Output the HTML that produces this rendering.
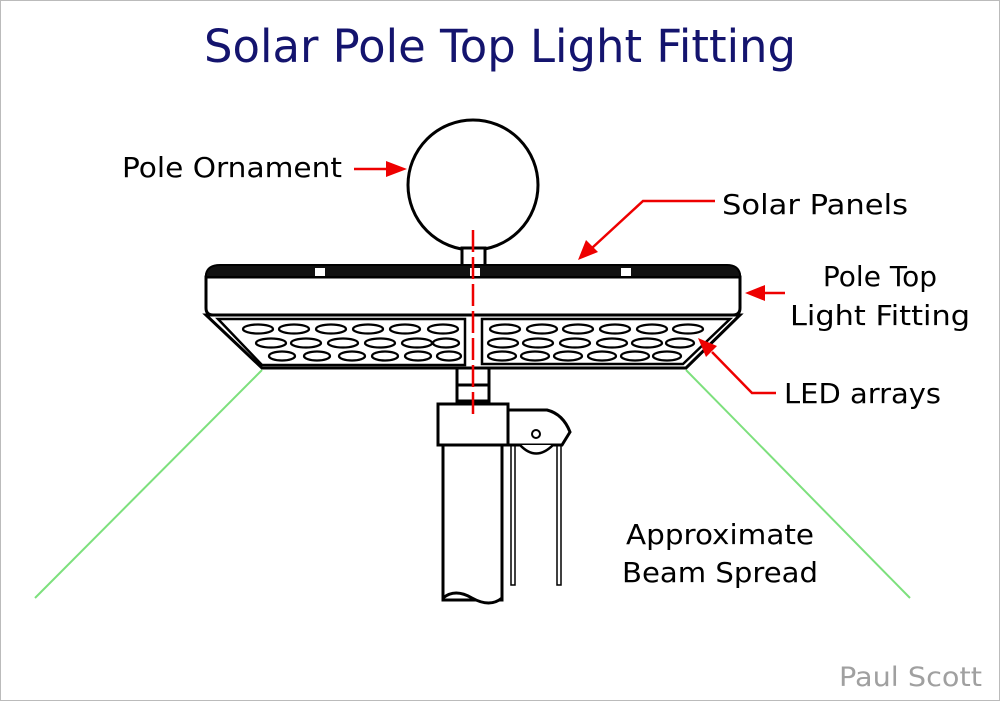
<!DOCTYPE html>
<html><head><style>
body{margin:0;width:1000px;height:701px;background:#fff;overflow:hidden}
svg{display:block}
text{font-family:"DejaVu Sans","Liberation Sans",sans-serif}
</style></head><body>
<svg width="1000" height="701" viewBox="0 0 1000 701">
<rect x="0.5" y="0.5" width="999" height="700" fill="#fff" stroke="#bbb"/>
<text x="500" y="62" font-size="45" fill="#14146e" text-anchor="middle" textLength="592" lengthAdjust="spacingAndGlyphs">Solar Pole Top Light Fitting</text>
<g fill="none" stroke="#7de07d" stroke-width="2">
<line x1="262" y1="370" x2="35" y2="598"/><line x1="686" y1="370" x2="910" y2="598"/></g>
<g stroke="#000" stroke-width="3" fill="#fff">
<circle cx="473" cy="185" r="65"/>
<rect x="462" y="248" width="23" height="18"/>
<path d="M206,315 L740,315 L686,368 L262,368 Z"/>
<path d="M218,319 L465,319 L465,365 L262,365 Z" stroke-width="2.5"/>
<path d="M482,319 L730,319 L683,364 L482,364 Z" stroke-width="2.5"/>
<path d="M206,277 L740,277 L740,308 Q740,315 733,315 L213,315 Q206,315 206,308 Z"/>
<rect x="457" y="368" width="32" height="17"/><rect x="457" y="385" width="32" height="16"/>
<path d="M443,445 L443,600 L502,600 L502,445"/>
<path d="M443,598 Q455,588 472,598 Q490,608 502,598" />
<rect x="438" y="404" width="70" height="41"/>
<path d="M508,410 L547,410 Q563,414 570,432 L562,445 L508,445 Z"/>
<path d="M520,445 Q536,462 553,445" stroke-width="2.5"/>
</g>
<circle cx="536" cy="434" r="4" fill="#fff" stroke="#000" stroke-width="2"/>
<path d="M206,277 L206,274 Q208,265 220,265 L727,265 Q738,265 740,274 L740,277 Z" fill="#111" stroke="#000" stroke-width="2"/>
<rect x="315" y="268" width="10" height="8" fill="#fff"/><rect x="470" y="268" width="10" height="8" fill="#fff"/><rect x="621" y="268" width="10" height="8" fill="#fff"/>
<g fill="none" stroke="#000" stroke-width="1.5">
<rect x="511" y="445" width="4" height="140"/><rect x="557" y="445" width="4" height="140"/></g>
<g fill="none" stroke="#000" stroke-width="2.3">
<ellipse cx="258" cy="329" rx="15" ry="4.5"/><ellipse cx="294" cy="329" rx="15" ry="4.5"/><ellipse cx="331" cy="329" rx="15" ry="4.5"/><ellipse cx="368" cy="329" rx="15" ry="4.5"/><ellipse cx="405" cy="329" rx="15" ry="4.5"/><ellipse cx="443" cy="329" rx="15" ry="4.5"/>
<ellipse cx="271" cy="343" rx="15" ry="4.5"/><ellipse cx="306" cy="343" rx="15" ry="4.5"/><ellipse cx="343" cy="343" rx="15" ry="4.5"/><ellipse cx="380" cy="343" rx="15" ry="4.5"/><ellipse cx="417" cy="343" rx="15" ry="4.5"/><ellipse cx="446" cy="343" rx="13" ry="4.5"/>
<ellipse cx="282" cy="356" rx="13" ry="4.5"/><ellipse cx="317" cy="356" rx="13" ry="4.5"/><ellipse cx="352" cy="356" rx="13" ry="4.5"/><ellipse cx="385" cy="356" rx="13" ry="4.5"/><ellipse cx="418" cy="356" rx="13" ry="4.5"/><ellipse cx="449" cy="356" rx="12" ry="4.5"/>
<ellipse cx="505" cy="329" rx="15" ry="4.5"/><ellipse cx="542" cy="329" rx="15" ry="4.5"/><ellipse cx="578" cy="329" rx="15" ry="4.5"/><ellipse cx="615" cy="329" rx="15" ry="4.5"/><ellipse cx="652" cy="329" rx="15" ry="4.5"/><ellipse cx="688" cy="329" rx="15" ry="4.5"/>
<ellipse cx="503" cy="343" rx="15" ry="4.5"/><ellipse cx="538" cy="343" rx="15" ry="4.5"/><ellipse cx="575" cy="343" rx="15" ry="4.5"/><ellipse cx="612" cy="343" rx="15" ry="4.5"/><ellipse cx="647" cy="343" rx="15" ry="4.5"/><ellipse cx="680" cy="343" rx="14" ry="4.5"/>
<ellipse cx="502" cy="356" rx="14" ry="4.5"/><ellipse cx="535" cy="356" rx="14" ry="4.5"/><ellipse cx="568" cy="356" rx="14" ry="4.5"/><ellipse cx="602" cy="356" rx="14" ry="4.5"/><ellipse cx="635" cy="356" rx="14" ry="4.5"/><ellipse cx="667" cy="356" rx="14" ry="4.5"/>
</g>
<line x1="473" y1="230" x2="473" y2="418" stroke="#e00" stroke-width="2.5" stroke-dasharray="22,5"/>
<g stroke="#e00" stroke-width="2.5" fill="none">
<line x1="354" y1="169" x2="390" y2="169"/>
<polyline points="715,201 643,201 592,248"/>
<line x1="785" y1="293" x2="762" y2="293"/>
<polyline points="776,393 752,393 712,352"/>
</g>
<g fill="#e00">
<polygon points="407,169 386,161 386,177"/>
<polygon points="578,260 586,240 598,252"/>
<polygon points="745,293 765,285 765,301"/>
<polygon points="698,338 717,346 706,357"/>
</g>
<g font-size="28" fill="#000">
<text x="122" y="177" textLength="220" lengthAdjust="spacingAndGlyphs">Pole Ornament</text>
<text x="722" y="214" textLength="186" lengthAdjust="spacingAndGlyphs">Solar Panels</text>
<text x="880" y="286" text-anchor="middle">Pole Top</text>
<text x="880" y="325" text-anchor="middle" textLength="180" lengthAdjust="spacingAndGlyphs">Light Fitting</text>
<text x="784" y="403" textLength="157" lengthAdjust="spacingAndGlyphs">LED arrays</text>
<text x="720" y="544" text-anchor="middle" textLength="188" lengthAdjust="spacingAndGlyphs">Approximate</text>
<text x="720" y="582" text-anchor="middle" textLength="196" lengthAdjust="spacingAndGlyphs">Beam Spread</text>
</g>
<text x="982" y="686" font-size="27" fill="#a0a0a0" text-anchor="end" textLength="143" lengthAdjust="spacingAndGlyphs">Paul Scott</text>
</svg>
</body></html>
